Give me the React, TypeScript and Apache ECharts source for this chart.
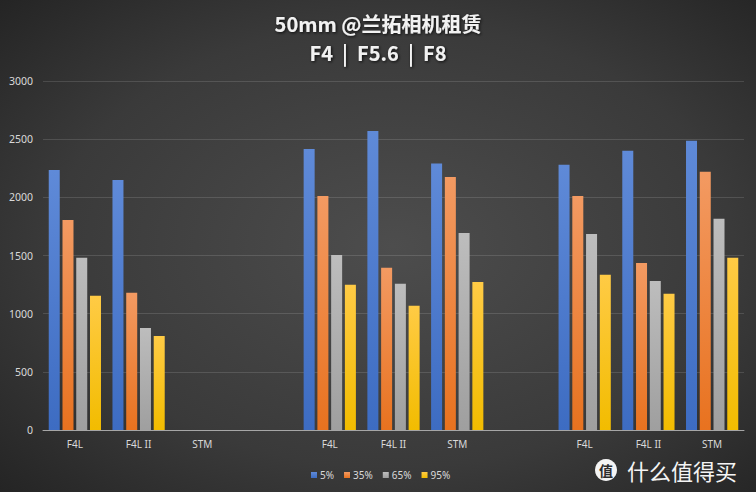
import React, { useEffect, useRef } from "react";
import * as echarts from "echarts";

const categories = ["F4L", "F4L II", "STM", "", "F4L", "F4L II", "STM", "", "F4L", "F4L II", "STM"];
const seriesNames = ["5%", "35%", "65%", "95%"];
const p5 = [2235, 2150, null, null, 2415, 2570, 2290, null, 2280, 2400, 2487];
const p35 = [1805, 1180, null, null, 2011, 1395, 2175, null, 2011, 1436, 2220];
const p65 = [1481, 877, null, null, 1504, 1258, 1693, null, 1685, 1281, 1816];
const p95 = [1155, 808, null, null, 1249, 1069, 1272, null, 1335, 1172, 1481];
const yTicks = { min: 0, max: 3000, interval: 500 };

const palette: [string, string][] = [
  ["#5f8ad8", "#3d6cc2"],
  ["#f39a62", "#e8721f"],
  ["#bdbdbd", "#9f9f9f"],
  ["#ffcb45", "#f2bc00"],
];

const titleStyle = {
  color: "#f2f2f2",
  fontSize: 20,
  fontWeight: "bold",
  fontFamily: "Noto Sans CJK SC",
  textShadowColor: "rgba(0,0,0,0.8)",
  textShadowBlur: 3,
  textShadowOffsetX: 1,
  textShadowOffsetY: 1,
};

export default function App() {
  const ref = useRef<HTMLDivElement>(null);
  useEffect(() => {
    if (!ref.current) return;
    const chart = echarts.init(ref.current, undefined, { renderer: "svg" });
    const values = [p5, p35, p65, p95];
    chart.setOption({
      animation: false,
      backgroundColor: new echarts.graphic.RadialGradient(0.52, 0.5, 0.75, [
        { offset: 0, color: "#4d4d4d" },
        { offset: 0.6, color: "#3a3a3a" },
        { offset: 1, color: "#222222" },
      ]),
      title: [
        { text: "50mm @兰拓相机租赁", left: "center", top: 8, textStyle: titleStyle },
        { text: "F4  |  F5.6  |  F8", left: "center", top: 37, textStyle: titleStyle },
      ],
      legend: {
        left: 306,
        top: 465,
        itemWidth: 6,
        itemHeight: 6,
        itemGap: 10,
        icon: "rect",
        textStyle: { color: "#d9d9d9", fontSize: 10, fontFamily: "Noto Sans", padding: [0, 0, 0, -2] },
        data: seriesNames,
      },
      grid: { left: 43, right: 12, top: 81, bottom: 62 },
      xAxis: {
        type: "category",
        data: categories,
        axisLine: { lineStyle: { color: "#a6a6a6", width: 1 } },
        axisTick: { show: false },
        axisLabel: { color: "#d9d9d9", fontSize: 10, fontFamily: "Noto Sans", margin: 9, interval: 0 },
      },
      yAxis: {
        type: "value",
        min: yTicks.min,
        max: yTicks.max,
        interval: yTicks.interval,
        axisLine: { show: false },
        axisTick: { show: false },
        axisLabel: {
          color: "#d9d9d9",
          fontSize: 10.5,
          fontFamily: "Noto Sans",
          margin: 10,
          formatter: (v: number) => String(v),
        },
        splitLine: { lineStyle: { color: "rgba(255,255,255,0.13)", width: 1 } },
      },
      series: seriesNames.map((name, i) => ({
        name,
        type: "bar",
        data: values[i],
        barWidth: 11,
        barGap: "25%",
        itemStyle: {
          color: new echarts.graphic.LinearGradient(0, 0, 0, 1, [
            { offset: 0, color: palette[i][0] },
            { offset: 1, color: palette[i][1] },
          ]),
        },
      })),
      graphic: [
        {
          type: "circle",
          shape: { cx: 606, cy: 470, r: 11 },
          style: { fill: "#f4f4f4" },
        },
        {
          type: "text",
          x: 606,
          y: 470,
          style: {
            text: "值",
            fill: "#2d2d2d",
            font: "bold 14px 'Noto Sans CJK SC'",
            align: "center",
            verticalAlign: "middle",
          },
        },
        {
          type: "text",
          x: 627,
          y: 470,
          style: {
            text: "什么值得买",
            fill: "#f4f4f4",
            font: "22px 'Noto Sans CJK SC'",
            verticalAlign: "middle",
          },
        },
      ],
    });
    return () => chart.dispose();
  }, []);
  return <div ref={ref} style={{ width: 756, height: 492, position: "absolute", left: 0, top: 0 }} />;
}
